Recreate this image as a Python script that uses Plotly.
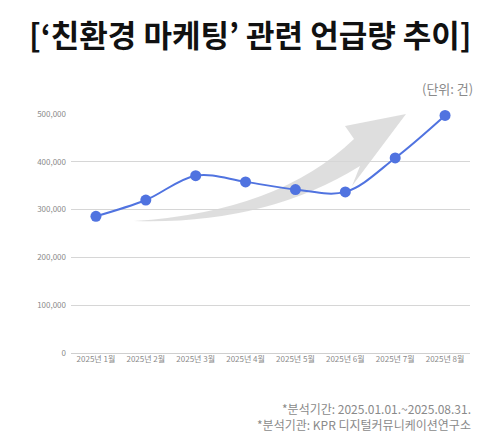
import plotly.graph_objects as go

# monthly mention counts
months = ["2025년 1월", "2025년 2월", "2025년 3월", "2025년 4월",
          "2025년 5월", "2025년 6월", "2025년 7월", "2025년 8월"]
mentions = [286000, 320000, 371000, 358000, 342000, 337000, 408000, 497000]

y_ticks = [0, 100000, 200000, 300000, 400000, 500000]
y_labels = ["0", "100,000", "200,000", "300,000", "400,000", "500,000"]

# page has an 8px body margin, so the figure is shrunk to fit the window
OFF = 8
W, H = 500 - OFF, 445 - OFF
L, R, T, B = 71 - OFF, 30, 114 - OFF, 92

FONT = "Noto Sans CJK KR"
GREY = "#8a8a8a"


def px(x, y):
    # screen pixel position -> paper coords (for decoration and text placement)
    x, y = x - OFF, y - OFF
    return (x - L) / (W - L - R), 1 - (y - T) / (H - T - B)


def arrow_path():
    pts = {
        "tail": (134, 221),
        "c_top": (278, 212),
        "top_j": (354, 139),
        "barb_up": (345, 126),
        "tip": (406, 114),
        "barb_lo": (352, 186),
        "lo_j": (360, 166),
        "c_lo": (265, 225),
    }
    p = {k: px(*v) for k, v in pts.items()}
    f = lambda k: "{:.4f},{:.4f}".format(*p[k])
    return ("M " + f("tail") + " Q " + f("c_top") + " " + f("top_j") +
            " L " + f("barb_up") + " L " + f("tip") + " L " + f("barb_lo") +
            " L " + f("lo_j") + " Q " + f("c_lo") + " " + f("tail") + " Z")


def note(text, x, y, anchor, size, color, bold=False, vanchor="middle"):
    ax, ay = px(x, y)
    if bold:
        text = "<b>" + text + "</b>"
    return dict(text=text, x=ax, y=ay, xref="paper", yref="paper",
                xanchor=anchor, yanchor=vanchor, showarrow=False,
                font=dict(size=size, color=color, family=FONT))


fig = go.Figure()
fig.add_trace(go.Scatter(
    x=months, y=mentions,
    mode="lines+markers",
    line=dict(color="#5073e0", width=2, shape="spline"),
    marker=dict(color="#5073e0", size=11),
    cliponaxis=False,
    hoverinfo="x+y",
))

fig.add_shape(type="path", path=arrow_path(), xref="paper", yref="paper",
              fillcolor="rgba(205,205,205,0.65)", line=dict(width=0), layer="below")

fig.update_layout(
    width=W, height=H,
    margin=dict(l=L, r=R, t=T, b=B),
    paper_bgcolor="white", plot_bgcolor="white",
    showlegend=False,
    font=dict(family=FONT, color=GREY, size=8),
    xaxis=dict(range=[-0.5, 7.5], showgrid=False, showline=False, ticks="",
               tickfont=dict(size=8, color=GREY), fixedrange=True),
    yaxis=dict(range=[0, 500000], tickvals=y_ticks, ticktext=y_labels,
               showgrid=True, gridcolor="#d6d6d6", gridwidth=1,
               zeroline=True, zerolinecolor="#cfcfcf", zerolinewidth=1,
               showline=False, ticks="", ticklabelstandoff=4,
               tickfont=dict(size=8, color=GREY), fixedrange=True),
    annotations=[
        note("[‘친환경 마케팅’ 관련 언급량 추이]", 250, OFF + 1, "center", 31, "#111111",
             bold=True, vanchor="top"),
        note("(단위: 건)", 475, 88, "right", 13, GREY),
        note("*분석기간: 2025.01.01.~2025.08.31.", 473, 408, "right", 12, GREY),
        note("*분석기관: KPR 디지털커뮤니케이션연구소", 473, 424, "right", 12, GREY),
    ],
)

fig.write_html("out.html")
